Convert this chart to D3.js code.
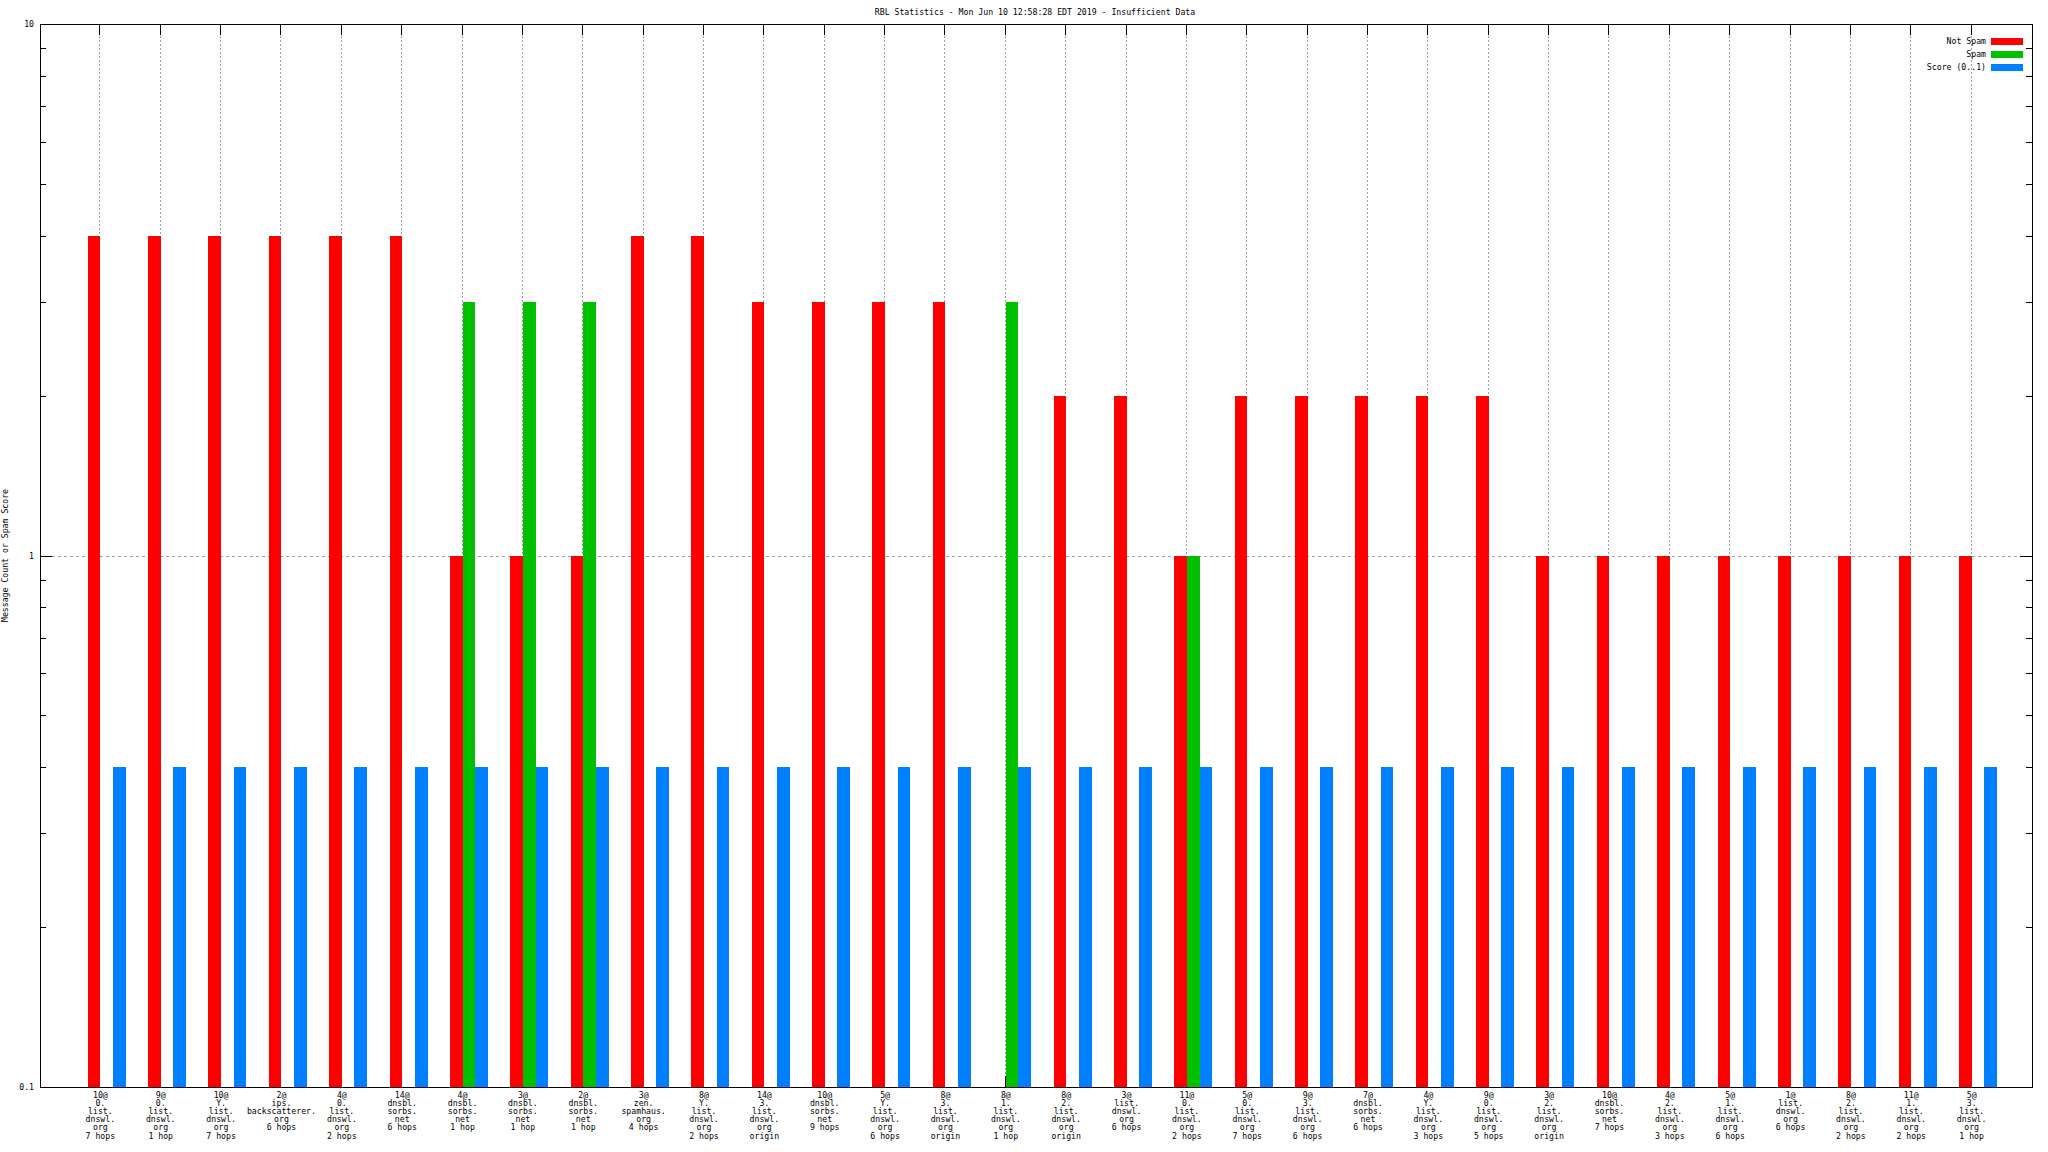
<!DOCTYPE html>
<html>
<head>
<meta charset="utf-8">
<script src="https://cdn.jsdelivr.net/npm/d3@7"></script>
<style>
html,body{margin:0;padding:0;background:#fff;}
svg{display:block;}
text{font-family:"DejaVu Sans Mono",monospace;font-size:8.2px;fill:#000;}
</style>
</head>
<body>
<svg id="chart" width="2048" height="1152"></svg>
<script>
const title = "RBL Statistics - Mon Jun 10 12:58:28 EDT 2019 - Insufficient Data";
const yAxisTitle = "Message Count or Spam Score";
const categories = [
  "10@\n0.\nlist.\ndnswl.\norg\n7 hops",
  "9@\n0.\nlist.\ndnswl.\norg\n1 hop",
  "10@\nY.\nlist.\ndnswl.\norg\n7 hops",
  "2@\nips.\nbackscatterer.\norg\n6 hops",
  "4@\n0.\nlist.\ndnswl.\norg\n2 hops",
  "14@\ndnsbl.\nsorbs.\nnet\n6 hops",
  "4@\ndnsbl.\nsorbs.\nnet\n1 hop",
  "3@\ndnsbl.\nsorbs.\nnet\n1 hop",
  "2@\ndnsbl.\nsorbs.\nnet\n1 hop",
  "3@\nzen.\nspamhaus.\norg\n4 hops",
  "8@\nY.\nlist.\ndnswl.\norg\n2 hops",
  "14@\n3.\nlist.\ndnswl.\norg\norigin",
  "10@\ndnsbl.\nsorbs.\nnet\n9 hops",
  "5@\nY.\nlist.\ndnswl.\norg\n6 hops",
  "8@\n3.\nlist.\ndnswl.\norg\norigin",
  "8@\n1.\nlist.\ndnswl.\norg\n1 hop",
  "8@\n2.\nlist.\ndnswl.\norg\norigin",
  "3@\nlist.\ndnswl.\norg\n6 hops",
  "11@\n0.\nlist.\ndnswl.\norg\n2 hops",
  "5@\n0.\nlist.\ndnswl.\norg\n7 hops",
  "9@\n3.\nlist.\ndnswl.\norg\n6 hops",
  "7@\ndnsbl.\nsorbs.\nnet\n6 hops",
  "4@\nY.\nlist.\ndnswl.\norg\n3 hops",
  "9@\n0.\nlist.\ndnswl.\norg\n5 hops",
  "3@\n2.\nlist.\ndnswl.\norg\norigin",
  "10@\ndnsbl.\nsorbs.\nnet\n7 hops",
  "4@\n2.\nlist.\ndnswl.\norg\n3 hops",
  "5@\n1.\nlist.\ndnswl.\norg\n6 hops",
  "1@\nlist.\ndnswl.\norg\n6 hops",
  "8@\n2.\nlist.\ndnswl.\norg\n2 hops",
  "11@\n1.\nlist.\ndnswl.\norg\n2 hops",
  "5@\n3.\nlist.\ndnswl.\norg\n1 hop"
];
const notSpam = [4,4,4,4,4,4,1,1,1,4,4,3,3,3,3,0,2,2,1,2,2,2,2,2,1,1,1,1,1,1,1,1];
const spam    = [0,0,0,0,0,0,3,3,3,0,0,0,0,0,0,3,0,0,1,0,0,0,0,0,0,0,0,0,0,0,0,0];
const score   = [0.4,0.4,0.4,0.4,0.4,0.4,0.4,0.4,0.4,0.4,0.4,0.4,0.4,0.4,0.4,0.4,0.4,0.4,0.4,0.4,0.4,0.4,0.4,0.4,0.4,0.4,0.4,0.4,0.4,0.4,0.4,0.4];
const seriesNames = ["Not Spam","Spam","Score (0..1)"];
const seriesColors = ["#ff0000","#00c000","#0080ff"];
const yMajorTicks = [0.1, 1, 10];
const yTickLabels = ["0.1", "1", "10"];

const L = 40, R = 2032, T = 24, B = 1087;
const svg = d3.select("#chart");
const x = d3.scaleLinear().domain([-1, categories.length]).range([L, R]);
const y = d3.scaleLog().domain([0.1, 10]).range([B, T]);
const bw = x(0.21) - x(0);
const gx = i => Math.round(x(i)) - 0.5;

// title
svg.append("text").attr("x", 1035).attr("y", 15).attr("text-anchor", "middle").text(title);

// y axis title
svg.append("text").attr("transform", `translate(8,${(T+B)/2}) rotate(-90)`)
  .attr("text-anchor", "middle").text(yAxisTitle);

const g = svg.append("g").attr("shape-rendering", "crispEdges");

// grid: vertical dotted at each category
g.selectAll("line.vg").data(categories).enter().append("line")
  .attr("x1", (d,i) => gx(i)).attr("x2", (d,i) => gx(i))
  .attr("y1", T).attr("y2", B)
  .attr("stroke", "#a0a0a0").attr("stroke-dasharray", "2,2");
// horizontal grid at major tick 1
g.append("line").attr("x1", L).attr("x2", R)
  .attr("y1", Math.round(y(1)) + 0.5).attr("y2", Math.round(y(1)) + 0.5)
  .attr("stroke", "#a0a0a0").attr("stroke-dasharray", "3,3");

// ticks (drawn under the bars)
const minorVals = [];
[0.1, 1].forEach(dec => { for (let k = 2; k <= 9; k++) minorVals.push(dec * k); });
const tickG = svg.append("g").attr("shape-rendering", "crispEdges").attr("stroke", "#000");
yMajorTicks.forEach(v => {
  const yy = Math.round(y(v)) + 0.5;
  tickG.append("line").attr("x1", L).attr("x2", L + 12).attr("y1", yy).attr("y2", yy);
  tickG.append("line").attr("x1", R).attr("x2", R - 12).attr("y1", yy).attr("y2", yy);
});
minorVals.forEach(v => {
  const yy = Math.round(y(v)) + 0.5;
  tickG.append("line").attr("x1", L).attr("x2", L + 6).attr("y1", yy).attr("y2", yy);
  tickG.append("line").attr("x1", R).attr("x2", R - 6).attr("y1", yy).attr("y2", yy);
});
categories.forEach((c, i) => {
  const xx = gx(i);
  tickG.append("line").attr("x1", xx).attr("x2", xx).attr("y1", T).attr("y2", T + 11);
  tickG.append("line").attr("x1", xx).attr("x2", xx).attr("y1", B).attr("y2", B - 11);
});

// bars
const barG = svg.append("g").attr("shape-rendering", "crispEdges");
const seriesData = [notSpam, spam, score];
const offsets = [-1, 0, 1];
seriesData.forEach((vals, s) => {
  barG.selectAll("rect.s" + s).data(vals.map((v, i) => ({v, i})).filter(d => d.v > 0))
    .enter().append("rect")
    .attr("x", d => x(d.i) + offsets[s] * bw)
    .attr("width", bw)
    .attr("y", d => y(d.v))
    .attr("height", d => B - y(d.v))
    .attr("fill", seriesColors[s]);
});

// border
svg.append("rect").attr("x", L + 0.5).attr("y", T + 0.5).attr("width", R - L).attr("height", B - T)
  .attr("fill", "none").attr("stroke", "#000").attr("shape-rendering", "crispEdges");

// y tick labels
yMajorTicks.forEach((v, k) => {
  svg.append("text").attr("x", 34).attr("y", y(v) + 3).attr("text-anchor", "end").text(yTickLabels[k]);
});

// x tick labels
categories.forEach((c, i) => {
  const t = svg.append("text").attr("text-anchor", "middle");
  c.split("\n").forEach((line, j) => {
    t.append("tspan").attr("x", x(i)).attr("y", B + 11 + j * 8.1).text(line);
  });
});

// legend
seriesNames.forEach((n, k) => {
  const yy = 41 + k * 13;
  svg.append("text").attr("x", 1986).attr("y", yy + 3).attr("text-anchor", "end").text(n);
  svg.append("rect").attr("x", 1991).attr("y", yy - 3).attr("width", 32).attr("height", 7)
    .attr("fill", seriesColors[k]);
});
</script>
</body>
</html>
